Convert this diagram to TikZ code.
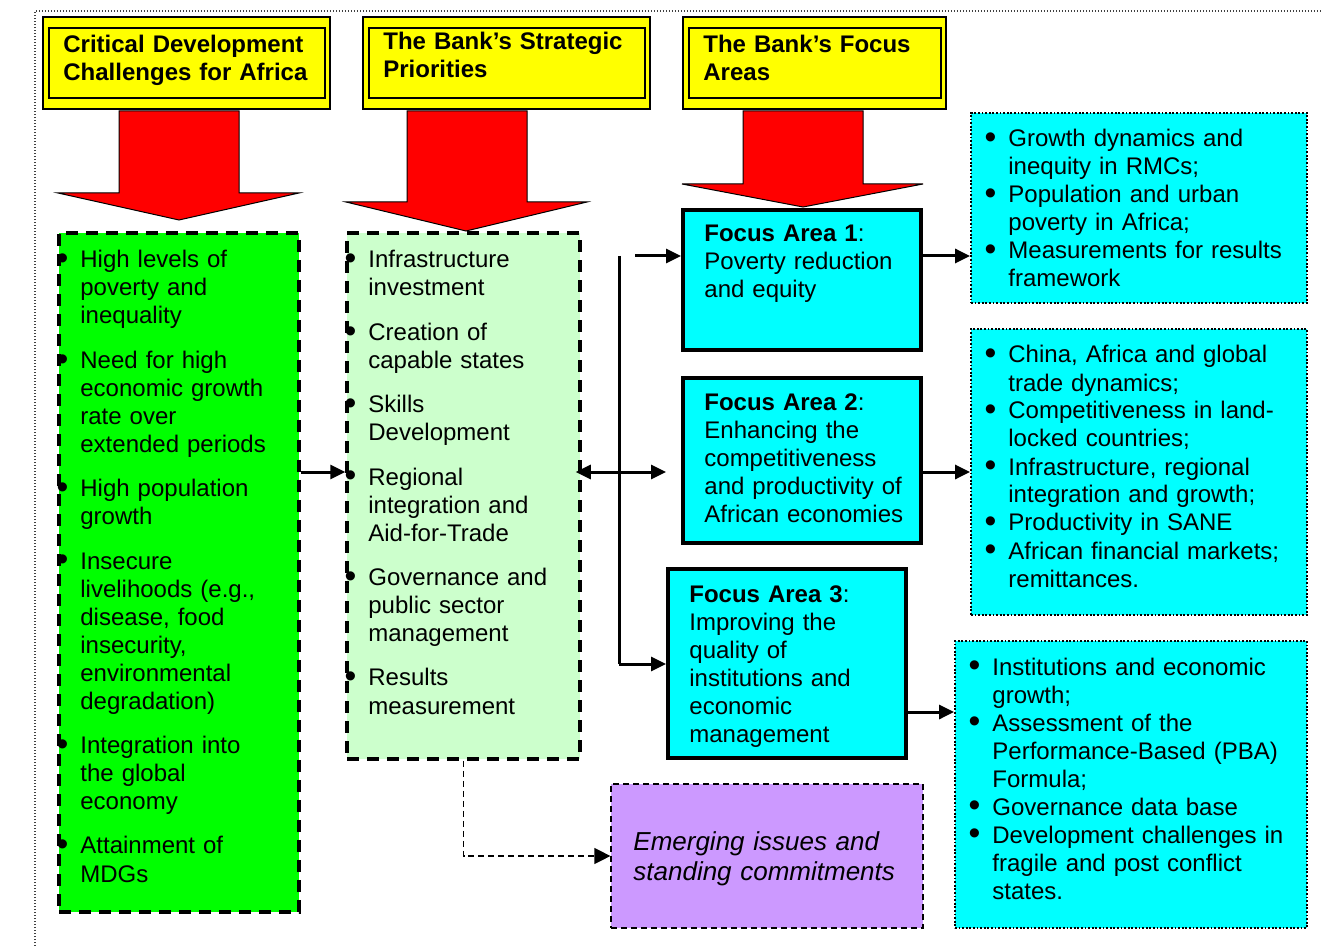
\documentclass[tikz,border=0pt]{standalone}
\usepackage{fontspec}
\usepackage{graphicx}
\setmainfont{Liberation Sans}
\usetikzlibrary{arrows.meta,fit}

\definecolor{hdryellow}{RGB}{255,255,0}
\definecolor{chalgreen}{RGB}{0,255,0}
\definecolor{priogreen}{RGB}{204,255,204}
\definecolor{focuscyan}{RGB}{0,255,255}
\definecolor{emerpurple}{RGB}{204,153,255}

\newcommand{\bul}{\leavevmode\llap{\raisebox{-0.9pt}{\scalebox{1.4}{\textbullet}}\hspace{6pt}}}

\tikzset{
	box/.style={rectangle,inner sep=0pt},
	hdrbox/.style={box,draw,fill=hdryellow,line width=1pt},
	hdrinner/.style={box,draw,line width=1pt},
	chalbox/.style={box,draw,fill=chalgreen,line width=1.75pt,dash pattern=on 6pt off 4pt},
	priobox/.style={box,draw,fill=priogreen,line width=1.75pt,dash pattern=on 6pt off 4pt},
	focusbox/.style={box,draw,fill=focuscyan,line width=2pt},
	topicbox/.style={box,draw,fill=focuscyan,line width=0.9pt,dash pattern=on 0.9pt off 0.9pt},
	emerbox/.style={box,draw,fill=emerpurple,line width=0.6pt,dash pattern=on 3pt off 2pt},
	txt/.style={inner sep=0pt,anchor=base west,text width=#1,align=left,font=\fontsize{12}{14}\selectfont},
	hdrtxt/.style={txt=150pt,font=\bfseries\fontsize{12}{14}\selectfont},
	blockarrow/.style={fill=red,draw=black,line width=0.5pt},
	conn/.style={line width=1.5pt,-{Triangle[length=7.5pt,width=7pt]}},
	dblconn/.style={line width=1.5pt,{Triangle[length=7.5pt,width=7pt]}-{Triangle[length=7.5pt,width=7pt]}},
	dconn/.style={line width=0.6pt,dash pattern=on 3pt off 2pt,-{Triangle[length=8pt,width=8pt]}},
	frame/.style={black!75,line width=0.6pt,dash pattern=on 0.6pt off 0.9pt}
}

\begin{document}
\begin{tikzpicture}[x=0.5pt,y=-0.5pt]
	\useasboundingbox (0,0) rectangle (1321,946);
	\draw[frame] (35,946) -- (35,11) -- (1321,11);
	% headers
	\node[hdrbox,fit={(43,17) (330,109)}] (hd1) {};
	\node[hdrinner,fit={(48.5,28.5) (325,98.5)}] (hd1in) {};
	\node[hdrtxt] (hd1txt) at (63,53) {Critical Development\\Challenges for Africa};
	\node[hdrbox,fit={(363,17) (650,109)}] (hd2) {};
	\node[hdrinner,fit={(368.5,28.5) (645,98.5)}] (hd2in) {};
	\node[hdrtxt] (hd2txt) at (383,50) {The Bank’s Strategic\\Priorities};
	\node[hdrbox,fit={(683,17) (946,109)}] (hd3) {};
	\node[hdrinner,fit={(688.5,28.5) (941,98.5)}] (hd3in) {};
	\node[hdrtxt] (hd3txt) at (703,53) {The Bank’s Focus\\Areas};
	% red block arrows
	\draw[blockarrow] (119,111) -- (239,111) -- (239,193) -- (299,193) -- (179,220) -- (58,193) -- (119,193) -- cycle;
	\draw[blockarrow] (407,111) -- (527,111) -- (527,202) -- (587,202) -- (466,231) -- (346,202) -- (407,202) -- cycle;
	\draw[blockarrow] (743,111) -- (863,111) -- (863,184) -- (923,184) -- (803,207) -- (682,184) -- (743,184) -- cycle;
	% challenges and priorities
	\node[chalbox,fit={(59,233) (299,912)}] (chal) {};
	\node[txt=150pt] (chaltxt) at (80,268) {\bul High levels of\\poverty and\\inequality\\[8.2pt]
		\bul Need for high\\economic growth\\rate over\\extended periods\\[8.2pt]
		\bul High population\\growth\\[8.2pt]
		\bul Insecure\\livelihoods (e.g.,\\disease, food\\insecurity,\\environmental\\degradation)\\[8.2pt]
		\bul Integration into\\the global\\economy\\[8.2pt]
		\bul Attainment of\\MDGs};
	\node[priobox,fit={(347,233) (580,759)}] (prio) {};
	\node[txt=150pt] (priotxt) at (368,268) {\bul Infrastructure\\investment\\[8.2pt]
		\bul Creation of\\capable states\\[8.2pt]
		\bul Skills\\Development\\[8.2pt]
		\bul Regional\\integration and\\Aid-for-Trade\\[8.2pt]
		\bul Governance and\\public sector\\management\\[8.2pt]
		\bul Results\\measurement};
	% focus areas
	\node[focusbox,fit={(683,210) (921,350)}] (fa1) {};
	\node[txt=150pt] (fa1txt) at (704,242) {\textbf{Focus Area 1}:\\Poverty reduction\\and equity};
	\node[focusbox,fit={(683,378) (921,543)}] (fa2) {};
	\node[txt=150pt] (fa2txt) at (704,410) {\textbf{Focus Area 2}:\\Enhancing the\\competitiveness\\and productivity of\\African economies};
	\node[focusbox,fit={(668,569) (906,758)}] (fa3) {};
	\node[txt=150pt] (fa3txt) at (689,602) {\textbf{Focus Area 3}:\\Improving the\\quality of\\institutions and\\economic\\management};
	% topics
	\node[topicbox,fit={(971,113) (1307,303)}] (r1) {};
	\node[txt=170pt] (r1txt) at (1008,147) {\bul Growth dynamics and\\inequity in RMCs;\\
		\bul Population and urban\\poverty in Africa;\\
		\bul Measurements for results\\framework};
	\node[topicbox,fit={(971,329) (1307,615)}] (r2) {};
	\node[txt=170pt] (r2txt) at (1008,363) {\bul China, Africa and global\\trade dynamics;\\
		\bul Competitiveness in land-\\locked countries;\\
		\bul Infrastructure, regional\\integration and growth;\\
		\bul Productivity in SANE\\
		\bul African financial markets;\\remittances.};
	\node[topicbox,fit={(955,641) (1307,928)}] (r3) {};
	\node[txt=170pt] (r3txt) at (992,675) {\bul Institutions and economic\\growth;\\
		\bul Assessment of the\\Performance-Based (PBA)\\Formula;\\
		\bul Governance data base\\
		\bul Development challenges in\\fragile and post conflict\\states.};
	\node[emerbox,fit={(611,784) (923,928)}] (emer) {};
	\node[txt=170pt,font=\itshape\fontsize{13}{15}\selectfont] (emertxt) at (633,850) {Emerging issues and\\standing commitments};
	% connectors
	\coordinate (row1) at (0,256);
	\coordinate (row2) at (0,472);
	\coordinate (row3) at (0,712);
	\coordinate (bustop) at (619,256);
	\coordinate (busbot) at (619,664);
	\coordinate (fa1in) at (635,256);
	\draw[conn] (chal.east |- row2) -- (prio.west |- row2);
	\draw[dblconn,shorten <=-3pt] (prio.east |- row2) -- (fa3.west |- row2);
	\draw[line width=1.5pt] (bustop) -- (busbot);
	\draw[conn] (fa1in) -- (fa1.west |- row1);
	\draw[conn] (busbot) -- (fa3.west |- busbot);
	\draw[conn] (fa1.east |- row1) -- (r1.west |- row1);
	\draw[conn] (fa2.east |- row2) -- (r2.west |- row2);
	\draw[conn] (fa3.east |- row3) -- (r3.west |- row3);
	\draw[dconn] (prio.south) |- (emer.west);
\end{tikzpicture}
\end{document}
